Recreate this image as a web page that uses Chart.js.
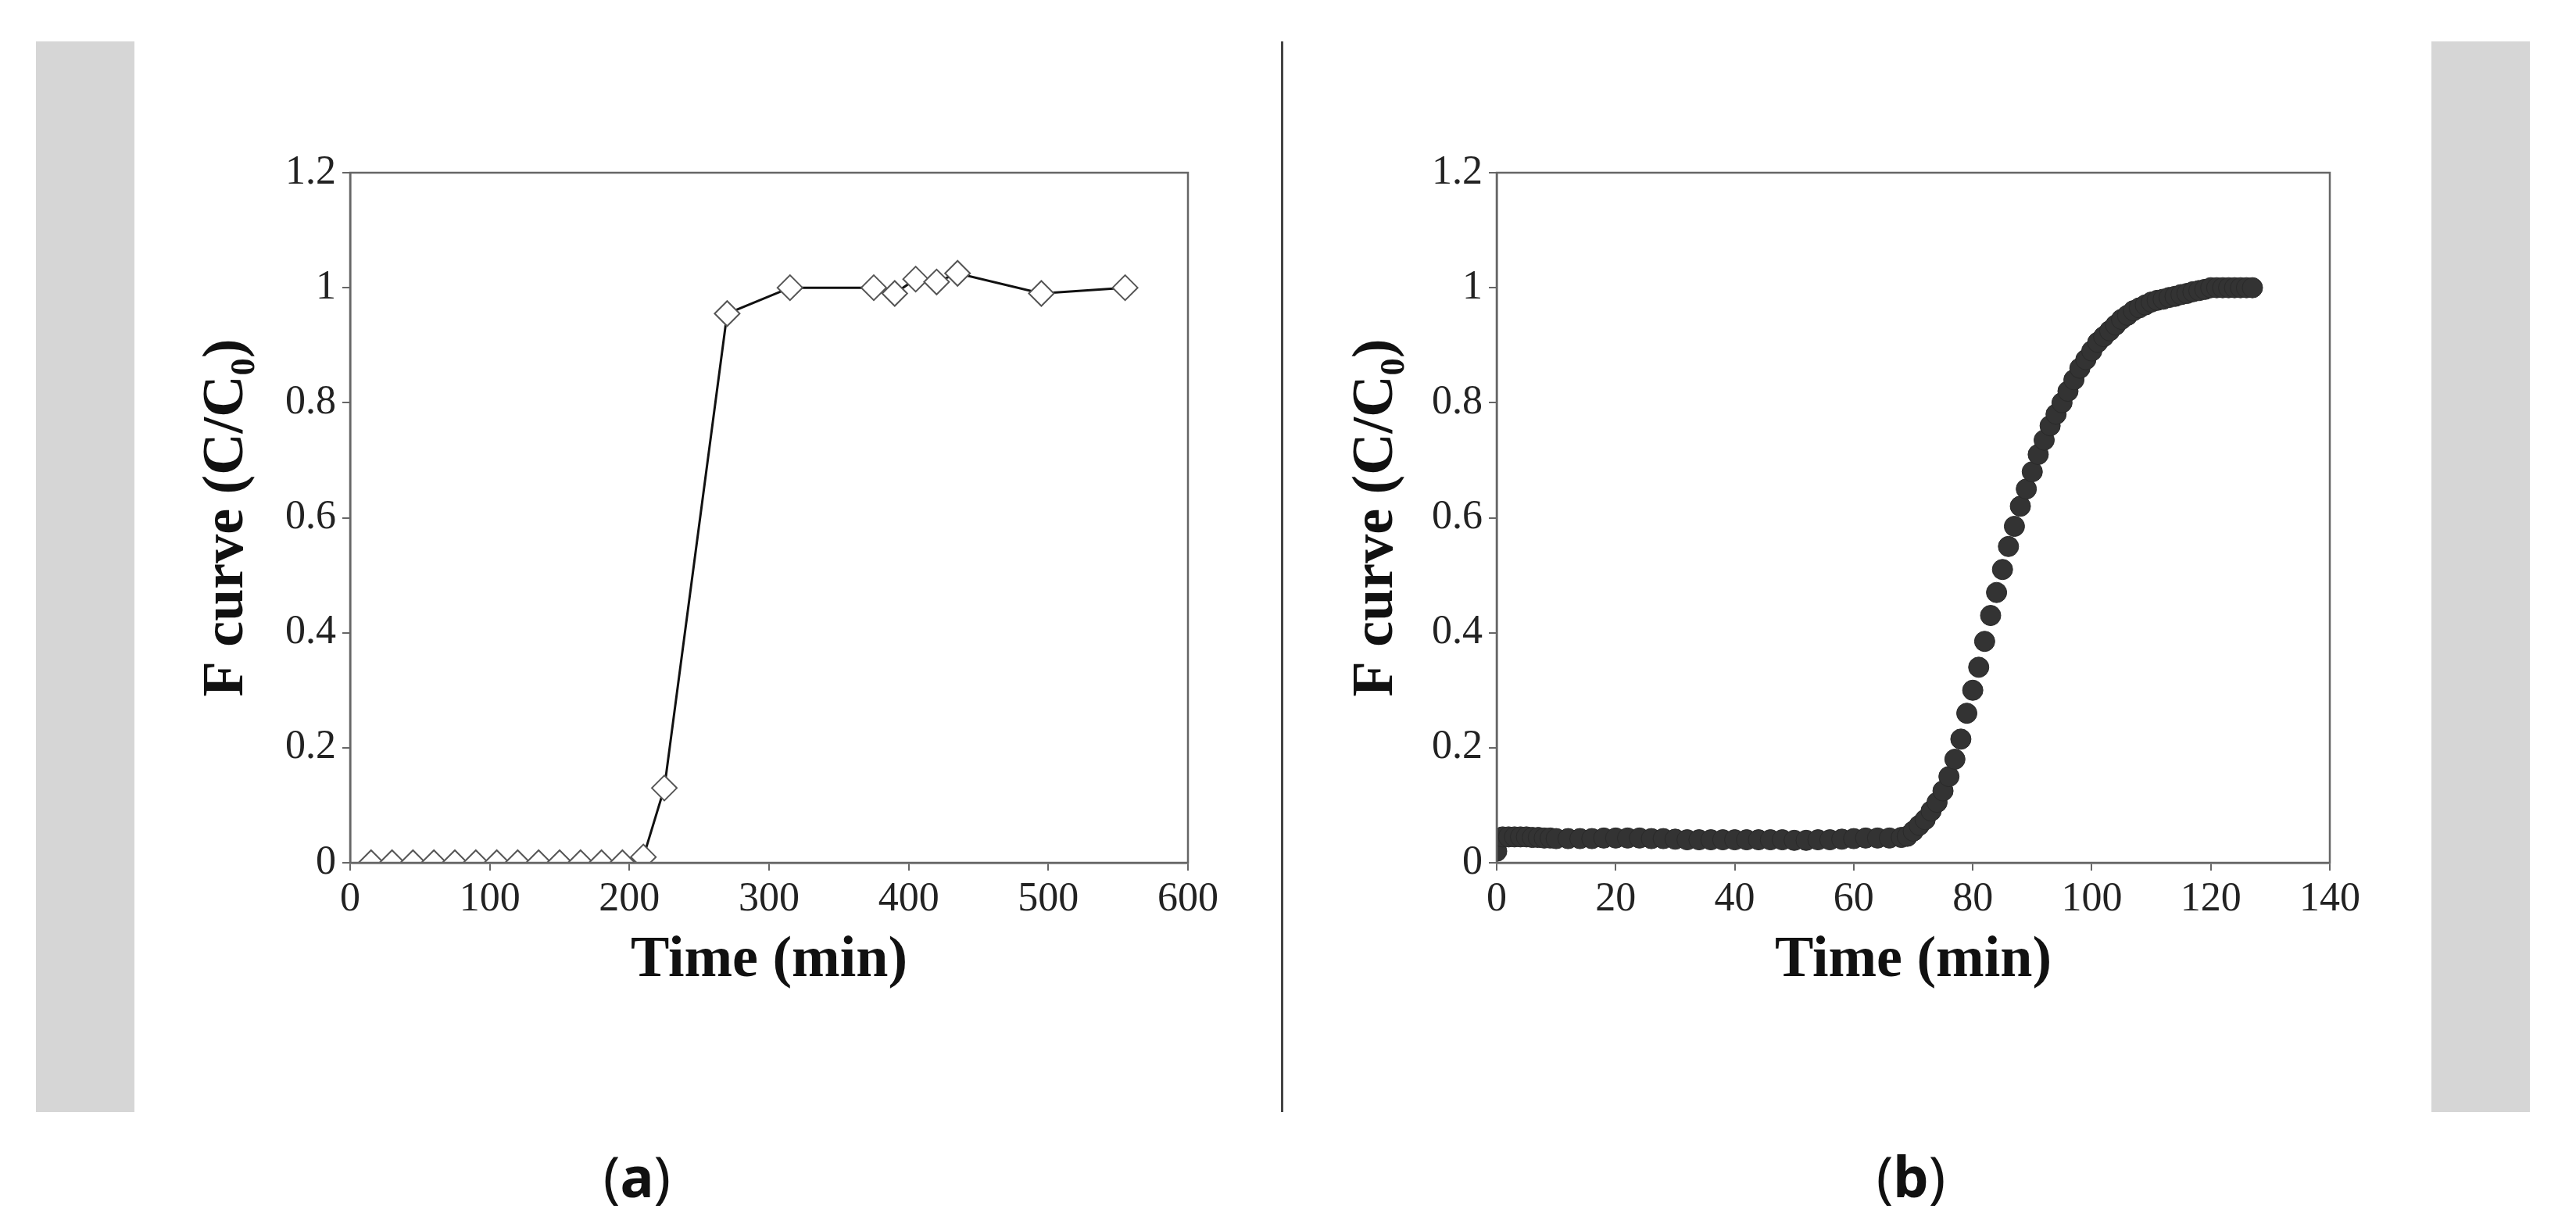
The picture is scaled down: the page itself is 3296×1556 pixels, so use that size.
<!DOCTYPE html>
<html><head><meta charset="utf-8">
<script src="https://cdn.jsdelivr.net/npm/chart.js@4"></script>
<style>
body{margin:0;background:#fff;width:3296px;height:1556px;position:relative;overflow:hidden}
.strip{position:absolute;background:#d6d6d6;top:53px;height:1370px;width:126px}
.cap{position:absolute;top:1455px;font-family:"Noto Sans",sans-serif;font-size:72px;color:#111;transform:translateX(-50%)}
canvas{position:absolute}
</style></head><body>
<div class="strip" style="left:46px"></div>
<div class="strip" style="left:3111px"></div>
<div style="position:absolute;left:1639px;top:53px;width:3px;height:1370px;background:#444"></div>
<div class="cap" style="left:815px">(<b>a</b>)</div>
<div class="cap" style="left:2445px">(<b>b</b>)</div>
<div style="position:absolute;left:180px;top:150px;width:1420px;height:1150px"><canvas id="ca"></canvas></div>
<div style="position:absolute;left:1660px;top:150px;width:1400px;height:1150px"><canvas id="cb"></canvas></div>
<script>
const timeA=[15,30,45,60,75,90,105,120,135,150,165,180,195,210,225,270,315,375,390,405,420,435,495,555];
const fA=[0,0,0,0,0,0,0,0,0,0,0,0,0,0.01,0.13,0.955,1.0,1.0,0.99,1.015,1.01,1.025,0.99,1.0];
const timeB=[0,1,2,3,4,5,6,7,8,9,10,12,14,16,18,20,22,24,26,28,30,32,34,36,38,40,42,44,46,48,50,52,54,56,58,60,62,64,66,68,69,70,71,72,73,74,75,76,77,78,79,80,81,82,83,84,85,86,87,88,89,90,91,92,93,94,95,96,97,98,99,100,101,102,103,104,105,106,107,108,109,110,111,112,113,114,115,116,117,118,119,120,121,122,123,124,125,126,127];
const fB=[0.02,0.045,0.045,0.045,0.045,0.045,0.044,0.044,0.043,0.043,0.042,0.042,0.042,0.042,0.043,0.043,0.043,0.043,0.042,0.042,0.041,0.04,0.04,0.04,0.04,0.04,0.04,0.04,0.04,0.04,0.039,0.039,0.04,0.04,0.041,0.042,0.043,0.043,0.043,0.044,0.046,0.055,0.065,0.075,0.09,0.105,0.125,0.15,0.18,0.215,0.26,0.3,0.34,0.385,0.43,0.47,0.51,0.55,0.585,0.62,0.65,0.68,0.71,0.735,0.76,0.78,0.80,0.82,0.84,0.86,0.875,0.89,0.905,0.915,0.925,0.935,0.945,0.952,0.96,0.965,0.97,0.975,0.978,0.98,0.983,0.985,0.988,0.99,0.993,0.995,0.997,1.0,1.0,1.0,1.0,1.0,1.0,1.0,1.0];
const yTicks=[0,0.2,0.4,0.6,0.8,1,1.2];
const xTicksA=[0,100,200,300,400,500,600];
const xTicksB=[0,20,40,60,80,100,120,140];
const tickFont={family:"Liberation Serif",size:52};
const titleFont={family:"Liberation Serif",size:74,weight:"bold"};
const boxPlugin={id:'box',afterDraw(c){const a=c.chartArea,x=c.ctx;x.save();x.strokeStyle='#666';x.lineWidth=2.5;x.strokeRect(a.left,a.top,a.right-a.left,a.bottom-a.top);x.restore();}};
function mk(id,xs,ys,xt,xmax,lpad,yw,rpad,ds){
 const data=xs.map((v,i)=>({x:v,y:ys[i]}));
 return new Chart(document.getElementById(id),{type:'scatter',data:{datasets:[Object.assign({data},ds)]},
 options:{responsive:true,maintainAspectRatio:false,animation:false,events:[],
 layout:{padding:{top:71,right:rpad,left:lpad,bottom:26}},
 plugins:{legend:{display:false},tooltip:{enabled:false}},
 scales:{
  x:{type:'linear',min:0,max:xmax,afterBuildTicks:s=>{s.ticks=xt.map(v=>({value:v}))},
   afterFit:s=>{s.height=170},
   grid:{drawOnChartArea:false,tickLength:10,color:'#666',lineWidth:2},border:{color:'#666',width:2.5},
   ticks:{font:tickFont,color:'#222',padding:6,maxRotation:0},
   title:{display:true,text:'Time (min)',font:titleFont,color:'#111',padding:{top:0,bottom:0}}},
  y:{min:0,max:1.2,afterBuildTicks:s=>{s.ticks=yTicks.map(v=>({value:v}))},
   afterFit:s=>{s.width=yw},
   grid:{drawOnChartArea:false,tickLength:10,color:'#666',lineWidth:2},border:{color:'#666',width:2.5},
   ticks:{font:tickFont,color:'#222',padding:8,callback:v=>String(v)},
   title:{display:true,text:'F curve (C/C\u2080)',font:titleFont,color:'#111',padding:{top:0,bottom:0}}}
 }},plugins:[boxPlugin]});
}
mk('ca',timeA,fA,xTicksA,600,66,202,80,{showLine:true,borderColor:'#111',borderWidth:3,pointStyle:'rectRot',pointRadius:16,pointBackgroundColor:'#fff',pointBorderColor:'#555',pointBorderWidth:2});
mk('cb',timeB,fB,xTicksB,140,57,198,79,{showLine:false,pointStyle:'circle',pointRadius:13,pointBackgroundColor:'#333',pointBorderColor:'#2a2a2a',pointBorderWidth:1});
</script></body></html>
